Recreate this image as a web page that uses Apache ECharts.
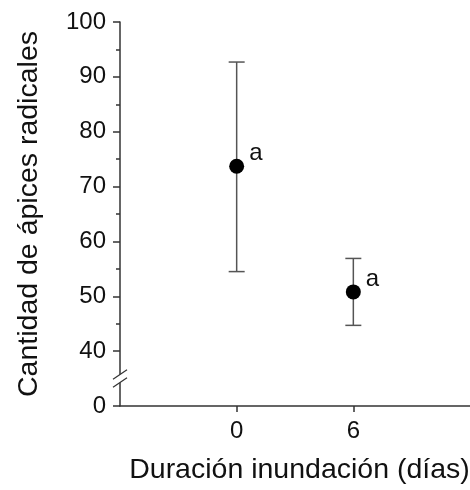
<!DOCTYPE html>
<html><head><meta charset="utf-8">
<script src="https://cdn.jsdelivr.net/npm/echarts@6/dist/echarts.min.js"></script>
<style>html,body{margin:0;padding:0;background:#fff}#c{width:470px;height:490px}</style>
</head><body><div id="c"></div>
<script>
const days = [0, 6];
const means = [73.7, 50.8];
const lower = [54.5, 44.7];
const upper = [92.7, 56.9];
const letters = ['a', 'a'];
const yTickValues = [0, 40, 50, 60, 70, 80, 90, 100];
const xTickValues = [0, 6];
// broken axis: real 0 is drawn at display value 30
const BREAK_DISPLAY = 30;
const toDisp = v => v === 0 ? BREAK_DISPLAY : v;

const chart = echarts.init(document.getElementById('c'));
const font = '"Liberation Sans", Arial, sans-serif';
const axisColor = '#333';
chart.setOption({
  animation: false,
  grid: {left: 120, right: 0, top: 22, bottom: 84, outerBoundsMode: 'none', containLabel: false},
  xAxis: {
    type: 'value', min: -6, max: 12,
    name: 'Duración inundación (días)', nameLocation: 'middle', nameGap: 50,
    nameTextStyle: {fontFamily: font, fontSize: 28.5, color: '#111', padding: [0, 0, 0, 9]},
    axisLine: {show: true, onZero: false, lineStyle: {color: axisColor, width: 1.5}},
    axisTick: {show: true, length: 6, customValues: xTickValues, lineStyle: {color: axisColor, width: 1.5}},
    axisLabel: {customValues: xTickValues, margin: 13, fontFamily: font, fontSize: 24, color: '#111'},
    splitLine: {show: false}
  },
  yAxis: {
    type: 'value', min: 30, max: 100, interval: 10,
    name: 'Cantidad de ápices radicales', nameLocation: 'middle', nameGap: 76,
    nameTextStyle: {fontFamily: font, fontSize: 28.5, color: '#111'},
    axisLine: {show: true, onZero: false, lineStyle: {color: axisColor, width: 1.5}},
    axisTick: {show: true, length: 7, lineStyle: {color: axisColor, width: 1.5}},
    minorTick: {show: true, splitNumber: 2, length: 4, lineStyle: {color: axisColor, width: 1.5}},
    axisLabel: {margin: 14, fontFamily: font, fontSize: 24, color: '#111',
      formatter: v => v === BREAK_DISPLAY ? String(yTickValues[0]) : String(v)},
    splitLine: {show: false}
  },
  series: [
    {
      type: 'custom',
      data: days.map((d, i) => [d, toDisp(lower[i]), toDisp(upper[i])]),
      renderItem: (params, api) => {
        const lo = api.coord([api.value(0), api.value(1)]);
        const hi = api.coord([api.value(0), api.value(2)]);
        const hw = 8;
        const style = {stroke: '#555', lineWidth: 1.5};
        return {type: 'group', children: [
          {type: 'line', shape: {x1: lo[0], y1: lo[1], x2: hi[0], y2: hi[1]}, style},
          {type: 'line', shape: {x1: lo[0]-hw, y1: lo[1], x2: lo[0]+hw, y2: lo[1]}, style},
          {type: 'line', shape: {x1: hi[0]-hw, y1: hi[1], x2: hi[0]+hw, y2: hi[1]}, style}
        ]};
      },
      z: 2
    },
    {
      type: 'scatter', symbol: 'circle', symbolSize: 15,
      itemStyle: {color: '#000', opacity: 1},
      data: days.map((d, i) => ({value: [d, toDisp(means[i])], label: {formatter: letters[i]}})),
      label: {show: true, position: 'right', distance: 5, offset: [0, -13],
        fontFamily: font, fontSize: 24, color: '#111'},
      z: 3
    }
  ]
});

// axis break marks
const p = chart.convertToPixel({xAxisIndex: 0, yAxisIndex: 0}, [-6, 35]);
const bx = p[0], by = p[1];
const dx = 7, sl = 0.68, gap = 4;
chart.setOption({graphic: [
  {type: 'polygon', z: 10, shape: {points: [
    [bx-dx, by-gap+dx*sl], [bx+dx, by-gap-dx*sl], [bx+dx, by+gap-dx*sl], [bx-dx, by+gap+dx*sl]]},
    style: {fill: '#fff'}},
  {type: 'line', z: 11, shape: {x1: bx-dx, y1: by-gap+dx*sl, x2: bx+dx, y2: by-gap-dx*sl},
    style: {stroke: axisColor, lineWidth: 1.2}},
  {type: 'line', z: 11, shape: {x1: bx-dx, y1: by+gap+dx*sl, x2: bx+dx, y2: by+gap-dx*sl},
    style: {stroke: axisColor, lineWidth: 1.2}}
]});
</script></body></html>
